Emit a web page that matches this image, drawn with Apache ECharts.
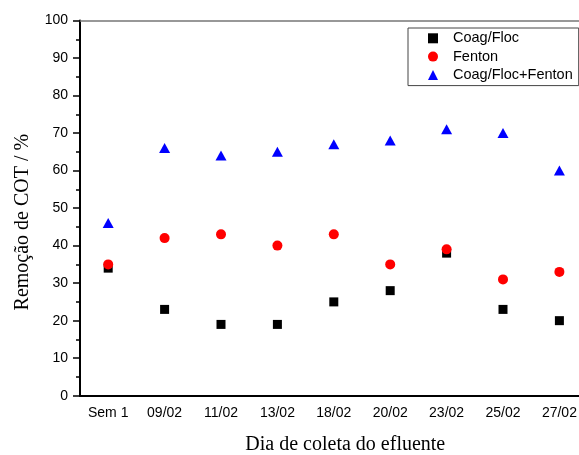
<!DOCTYPE html>
<html lang="pt">
<head>
    <meta charset="UTF-8">
    <title>Remoção de COT</title>
    <script src="https://cdn.jsdelivr.net/npm/echarts@6/dist/echarts.min.js"></script>
    <style>
        html, body { margin: 0; padding: 0; background: #fff; }
    </style>
</head>
<body>
<div id="main" style="width: 579px;height:455px;"></div>
<script type="text/javascript">
    // dados
    var dias = ['Sem 1', '09/02', '11/02', '13/02', '18/02', '20/02', '23/02', '25/02', '27/02'];
    var coagFloc = [34, 23, 19, 19, 25, 28, 38, 23, 20];
    var fenton = [35, 42, 43, 40, 43, 35, 39, 31, 33];
    var coagFlocFenton = [46, 66, 64, 65, 67, 68, 71, 70, 60];

    var sans = '"Liberation Sans", Arial, sans-serif';
    var serif = '"Liberation Serif", "Times New Roman", serif';

    var myChart = echarts.init(document.getElementById('main'));
    var option = {
        animation: false,
        // a moldura original é cortada à direita
        grid: {left: 80, top: 20.5, width: 507.6, height: 375.2, containLabel: false, outerBoundsMode: 'none'},
        legend: {
            orient: 'vertical',
            left: 408,
            top: 28,
            padding: [2.3, 6, 2.7, 20],
            itemGap: 2.3,
            itemWidth: 10,
            itemHeight: 10,
            borderColor: '#444',
            borderWidth: 1,
            textStyle: {fontFamily: sans, fontSize: 14.5, color: '#000', lineHeight: 16, padding: [0, 0, 0, 10]},
            data: [
                {name: 'Coag/Floc', icon: 'rect'},
                {name: 'Fenton', icon: 'circle'},
                {name: 'Coag/Floc+Fenton', icon: 'triangle'}
            ]
        },
        xAxis: [
            {
                type: 'category',
                data: dias,
                boundaryGap: true,
                name: 'Dia de coleta do efluente',
                nameLocation: 'middle',
                nameGap: 39,
                nameTextStyle: {fontFamily: serif, fontSize: 20, color: '#000', padding: [0, 0, 0, 23]},
                axisLine: {lineStyle: {color: '#000', width: 2}},
                axisTick: {alignWithLabel: true, length: 7, lineStyle: {color: '#000', width: 1.5}},
                axisLabel: {fontFamily: sans, fontSize: 14, color: '#000', margin: 10, interval: 0},
                splitLine: {show: false}
            },
            {
                type: 'category',
                data: dias,
                boundaryGap: true,
                position: 'bottom',
                axisLine: {show: false},
                axisTick: {interval: 0, length: 4, lineStyle: {color: '#000', width: 1.5}},
                axisLabel: {show: false},
                splitLine: {show: false}
            },
            {
                type: 'category',
                data: dias,
                position: 'top',
                axisLine: {lineStyle: {color: '#777', width: 1.5}},
                axisTick: {show: false},
                axisLabel: {show: false},
                splitLine: {show: false}
            }
        ],
        yAxis: {
            type: 'value',
            min: 0,
            max: 100,
            interval: 10,
            name: 'Remoção de COT / %',
            nameLocation: 'middle',
            nameGap: 47,
            nameTextStyle: {fontFamily: serif, fontSize: 20, color: '#000', padding: [0, 28, 0, 0]},
            axisLine: {show: true, lineStyle: {color: '#000', width: 2}},
            axisTick: {show: true, length: 7, lineStyle: {color: '#000', width: 1.5}},
            minorTick: {show: true, splitNumber: 2, length: 4, lineStyle: {color: '#000', width: 1.5}},
            axisLabel: {fontFamily: sans, fontSize: 14, color: '#000', margin: 12},
            splitLine: {show: false}
        },
        series: [
            {
                name: 'Coag/Floc',
                type: 'scatter',
                symbol: 'rect',
                symbolSize: 9,
                itemStyle: {color: '#000', opacity: 1},
                data: coagFloc
            },
            {
                name: 'Fenton',
                type: 'scatter',
                symbol: 'circle',
                symbolSize: 10,
                itemStyle: {color: '#ff0000', opacity: 1},
                data: fenton
            },
            {
                name: 'Coag/Floc+Fenton',
                type: 'scatter',
                symbol: 'triangle',
                symbolSize: [11, 10],
                itemStyle: {color: '#0000ff', opacity: 1},
                data: coagFlocFenton
            }
        ]
    };
    myChart.setOption(option);
</script>
</body>
</html>
